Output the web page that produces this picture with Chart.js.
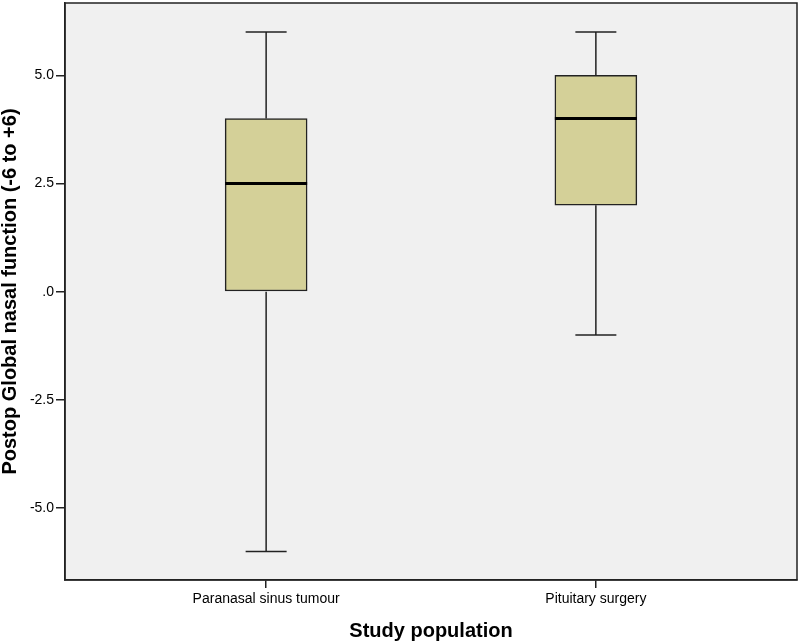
<!DOCTYPE html>
<html>
<head>
<meta charset="utf-8">
<script src="https://cdn.jsdelivr.net/npm/chart.js@4"></script>
<style>
  html, body { margin: 0; padding: 0; background: #fff; }
  #wrap { width: 800px; height: 643px; }
</style>
</head>
<body>
<div id="wrap"><canvas id="myChart" width="800" height="643"></canvas></div>
<script>
const categories = ['Paranasal sinus tumour', 'Pituitary surgery'];
const xPos = [1, 2];
const mins = [-6, -1];
const q1s = [0, 2];
const medians = [2.5, 4];
const q3s = [4, 5];
const maxs = [6, 6];
const yTicks = [-5, -2.5, 0, 2.5, 5];
const yTickLabels = ['-5.0', '-2.5', '.0', '2.5', '5.0'];

const lineColor = '#222';
const boxWidth = 82;

// plot background + outer frame
const frame = {
  id: 'frame',
  beforeDraw(chart) {
    const a = chart.chartArea, c = chart.ctx;
    c.save();
    c.fillStyle = '#f0f0f0';
    c.fillRect(a.left, a.top, a.right - a.left, a.bottom - a.top);
    c.restore();
  },
  afterDraw(chart) {
    const a = chart.chartArea, c = chart.ctx;
    c.save();
    c.strokeStyle = lineColor;
    c.lineWidth = 1.5;
    c.strokeRect(a.left, a.top, a.right - a.left, a.bottom - a.top);
    c.restore();
  }
};

// whiskers, caps and median lines
const whiskers = {
  id: 'whiskers',
  afterDatasetsDraw(chart) {
    const xs = chart.scales.x, ys = chart.scales.y, c = chart.ctx;
    c.save();
    xPos.forEach((v, i) => {
      const x = xs.getPixelForValue(v);
      const cap = boxWidth / 4;
      c.strokeStyle = lineColor;
      c.lineWidth = 1.5;
      c.beginPath();
      c.moveTo(x, ys.getPixelForValue(q3s[i]));
      c.lineTo(x, ys.getPixelForValue(maxs[i]));
      c.moveTo(x, ys.getPixelForValue(q1s[i]));
      c.lineTo(x, ys.getPixelForValue(mins[i]));
      c.moveTo(x - cap, ys.getPixelForValue(maxs[i]));
      c.lineTo(x + cap, ys.getPixelForValue(maxs[i]));
      c.moveTo(x - cap, ys.getPixelForValue(mins[i]));
      c.lineTo(x + cap, ys.getPixelForValue(mins[i]));
      c.stroke();
      c.lineWidth = 3;
      c.strokeStyle = '#000';
      c.beginPath();
      const ym = ys.getPixelForValue(medians[i]);
      c.moveTo(x - boxWidth / 2, ym);
      c.lineTo(x + boxWidth / 2, ym);
      c.stroke();
    });
    c.restore();
  }
};

const ctx = document.getElementById('myChart');
new Chart(ctx, {
  type: 'bar',
  data: {
    datasets: [{
      data: xPos.map((v, i) => ({ x: v, y: [q1s[i], q3s[i]] })),
      backgroundColor: '#d4d098',
      borderColor: lineColor,
      borderWidth: 1.5,
      borderSkipped: false,
      barThickness: boxWidth,
      grouped: false
    }]
  },
  options: {
    responsive: false,
    animation: false,
    layout: { padding: { top: 3, right: 3, left: 0, bottom: 0 } },
    plugins: {
      legend: { display: false },
      tooltip: { enabled: false }
    },
    scales: {
      x: {
        type: 'linear',
        min: 0.39,
        max: 2.61,
        offset: false,
        afterBuildTicks(scale) { scale.ticks = xPos.map(v => ({ value: v })); },
        afterFit(scale) { scale.height = 63; scale.paddingLeft = 0; scale.paddingRight = 0; },
        ticks: {
          callback: (v, i) => categories[i],
          color: '#000',
          font: { family: 'Liberation Sans, Arial', size: 14 },
          padding: 3,
          maxRotation: 0
        },
        grid: { offset: false, drawOnChartArea: false, color: lineColor, tickLength: 8, lineWidth: 1.5 },
        border: { color: lineColor, width: 1.5 },
        title: {
          display: true,
          text: 'Study population',
          color: '#000',
          font: { family: 'Liberation Sans, Arial', size: 20, weight: 'bold' },
          padding: { top: 2, bottom: 0 }
        }
      },
      y: {
        min: -6.66,
        max: 6.67,
        afterBuildTicks(scale) { scale.ticks = yTicks.map(v => ({ value: v })); },
        afterFit(scale) { scale.width = 65; scale.paddingTop = 0; scale.paddingBottom = 0; },
        ticks: {
          callback: (v, i) => yTickLabels[i],
          color: '#000',
          font: { family: 'Liberation Sans, Arial', size: 14 },
          padding: 2
        },
        grid: { drawOnChartArea: false, color: lineColor, tickLength: 9, lineWidth: 1.5 },
        border: { color: lineColor, width: 1.5 },
        title: {
          display: true,
          text: 'Postop Global nasal function (-6 to +6)',
          color: '#000',
          font: { family: 'Liberation Sans, Arial', size: 20, weight: 'bold', lineHeight: 1 },
          padding: { top: 0, bottom: 0 }
        }
      }
    }
  },
  plugins: [frame, whiskers]
});
</script>
</body>
</html>
